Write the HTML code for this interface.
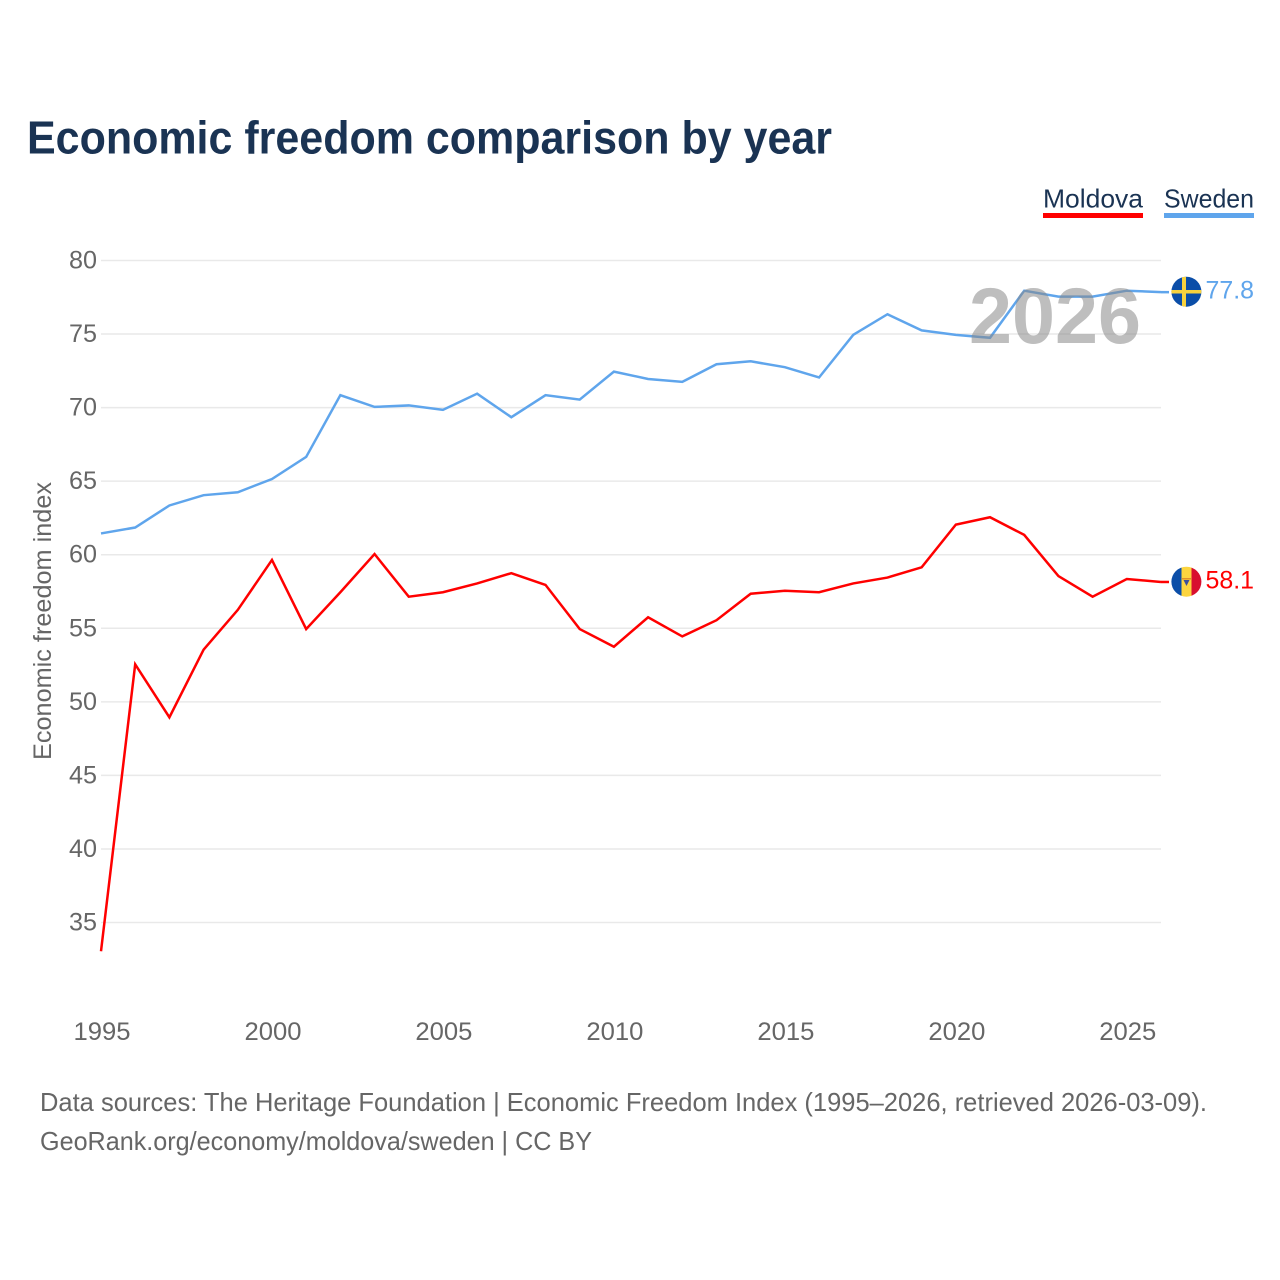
<!DOCTYPE html>
<html lang="en">
<head>
<meta charset="utf-8">
<title>Economic freedom comparison by year</title>
<style>
html,body{margin:0;padding:0;background:#fff;}
svg{display:block;}
text{font-family:"Liberation Sans",sans-serif;}
</style>
</head>
<body>
<svg id="chart" xmlns="http://www.w3.org/2000/svg" width="1280" height="1280" viewBox="0 0 1280 1280">
  <defs>
    <clipPath id="flag-clip-se"><circle cx="1186.4" cy="291.7" r="15"></circle></clipPath>
    <clipPath id="flag-clip-md"><circle cx="1186.4" cy="581.7" r="15"></circle></clipPath>
  </defs>
  <rect x="0" y="0" width="1280" height="1280" fill="#ffffff"></rect>
  <text x="27" y="153.5" font-size="46" font-weight="bold" fill="#1a3353" textLength="805" lengthAdjust="spacingAndGlyphs">Economic freedom comparison by year</text>

  <g>
    <g>
      <text x="1043" y="207.5" font-size="26" fill="#1a3353" textLength="100" lengthAdjust="spacingAndGlyphs">Moldova</text>
      <rect x="1043" y="213" width="100" height="5" fill="#ff0000"></rect>
    </g>
    <g>
      <text x="1164" y="207.5" font-size="26" fill="#1a3353" textLength="90" lengthAdjust="spacingAndGlyphs">Sweden</text>
      <rect x="1164" y="213" width="90" height="5" fill="#5fa5ec"></rect>
    </g>
  </g>

  <g id="grid"></g>
  <g id="y-labels"></g>
  <g id="x-labels"></g>
  <text transform="translate(51,760) rotate(-90)" x="0" y="0" font-size="25" fill="#666666" textLength="278" lengthAdjust="spacingAndGlyphs">Economic freedom index</text>

  <g id="series"></g>
  <text x="969" y="343" font-size="79" font-weight="bold" fill="#888888" fill-opacity="0.55" textLength="172" lengthAdjust="spacingAndGlyphs">2026</text>

  <g clip-path="url(#flag-clip-se)">
    <rect x="1171" y="276" width="31" height="31" fill="#0b4ea8"></rect>
    <rect x="1182" y="276" width="4" height="31" fill="#f7d23e"></rect>
    <rect x="1171" y="290" width="31" height="3.5" fill="#f7d23e"></rect>
  </g>
  <g clip-path="url(#flag-clip-md)">
    <rect x="1171" y="566" width="10.5" height="31" fill="#0b4ea8"></rect>
    <rect x="1181.5" y="566" width="10" height="31" fill="#fcd53f"></rect>
    <rect x="1191.5" y="566" width="10" height="31" fill="#d80f2f"></rect>
    <rect x="1182" y="578" width="9" height="1.5" fill="#e0902a"></rect>
    <path d="M1183.5 580h6l-3 6z" fill="#3b4f9a"></path>
  </g>

  <g>
    <text x="40" y="1111" font-size="26" fill="#666666" textLength="1167" lengthAdjust="spacingAndGlyphs">Data sources: The Heritage Foundation | Economic Freedom Index (1995–2026, retrieved 2026-03-09).</text>
    <text x="40" y="1150" font-size="26" fill="#666666" textLength="552" lengthAdjust="spacingAndGlyphs">GeoRank.org/economy/moldova/sweden | CC BY</text>
  </g>
</svg>
<script>
const years = [1995,1996,1997,1998,1999,2000,2001,2002,2003,2004,2005,2006,2007,2008,2009,2010,2011,2012,2013,2014,2015,2016,2017,2018,2019,2020,2021,2022,2023,2024,2025,2026];
const moldovaValues = [33.0,52.5,48.9,53.5,56.2,59.6,54.9,57.4,60.0,57.1,57.4,58.0,58.7,57.9,54.9,53.7,55.7,54.4,55.5,57.3,57.5,57.4,58.0,58.4,59.1,62.0,62.5,61.3,58.5,57.1,58.3,58.1];
const swedenValues = [61.4,61.8,63.3,64.0,64.2,65.1,66.6,70.8,70.0,70.1,69.8,70.9,69.3,70.8,70.5,72.4,71.9,71.7,72.9,73.1,72.7,72.0,74.9,76.3,75.2,74.9,74.7,77.9,77.5,77.5,77.9,77.8];
const yTicks = [35,40,45,50,55,60,65,70,75,80];
const xTicks = [1995,2000,2005,2010,2015,2020,2025];

const NS = 'http://www.w3.org/2000/svg';
function xScale(year) { return 101 + (year - 1995) * (1161 - 101) / 31; }
function yScale(value) { return 260.5 + (80 - value) * (922.5 - 260.5) / 45; }
function lineY(value) { return yScale(value) - 0.7; }
function make(tag, attrs, parent) {
  const el = document.createElementNS(NS, tag);
  for (const k in attrs) el.setAttribute(k, attrs[k]);
  parent.appendChild(el);
  return el;
}

const gridGroup = document.getElementById('grid');
const yLabelGroup = document.getElementById('y-labels');
const xLabelGroup = document.getElementById('x-labels');
const seriesGroup = document.getElementById('series');

yTicks.forEach(function (tick) {
  const line = make('line', {x1: 101, x2: 1161, y1: yScale(tick), y2: yScale(tick), stroke: '#e9e9e9', 'stroke-width': 1.5}, gridGroup);
  
  
  const label = make('text', {x: 69, y: yScale(tick) + 8, 'font-size': 25, fill: '#666666', textLength: 28, lengthAdjust: 'spacingAndGlyphs'}, yLabelGroup);
  
  
  label.textContent = String(tick);
});

xTicks.forEach(function (tick) {
  const label = make('text', {x: xScale(tick) - 27.5, y: 1040, 'font-size': 25, fill: '#666666', textLength: 57, lengthAdjust: 'spacingAndGlyphs'}, xLabelGroup);
  
  
  label.textContent = String(tick);
});

function drawSeries(values, color, key) {
  const pts = values.map(function (v, i) { return xScale(years[i]) + ',' + lineY(v); }).join(' ');
  const line = make('polyline', {points: pts, fill: 'none', stroke: color, 'stroke-width': 2.5, 'stroke-linejoin': 'miter'}, seriesGroup);
  
  
  const last = values[values.length - 1];
  const lastY = lineY(last);
  const leader = make('line', {x1: xScale(2026), x2: xScale(2026) + 8, y1: lastY, y2: lastY, stroke: color, 'stroke-width': 2.5}, seriesGroup);
  
  
  const label = make('text', {x: 1205.5, y: lastY + 6.5, 'font-size': 25, fill: color, textLength: 48.5, lengthAdjust: 'spacingAndGlyphs'}, seriesGroup);
  
  
  label.textContent = last.toFixed(1);
}

drawSeries(swedenValues, '#5fa5ec', 'sweden');
drawSeries(moldovaValues, '#ff0000', 'moldova');
</script>
</body>
</html>
